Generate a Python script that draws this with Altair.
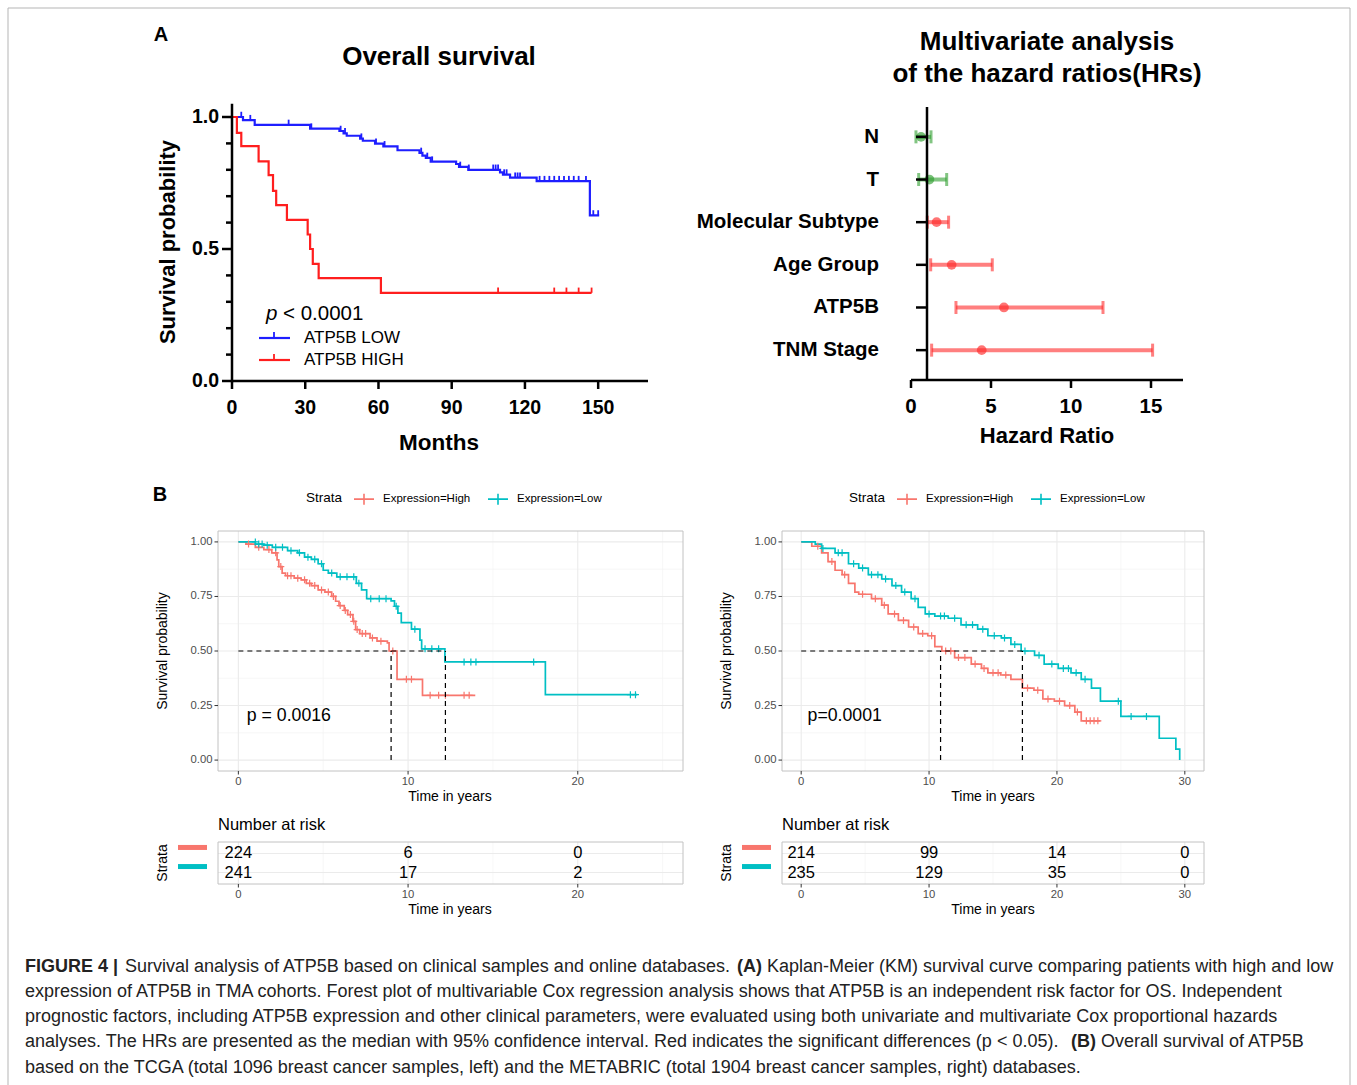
import altair as alt
import pandas as pd

W, H = 1357, 1085
FONT = "Liberation Sans"

# ======================= DATA =======================
# ---- Panel A: TMA cohort Kaplan-Meier (months) ----
a_groups = ["ATP5B LOW", "ATP5B HIGH"]
a_low_t = [0, 4.5, 9.3, 32, 44, 45.7, 47, 52.5, 53.6, 58.6, 62, 67.8, 76.8, 78, 79.4, 81.4,
           91.8, 93, 96.8, 109.8, 111, 113.9, 124.8, 146.6, 150.4]
a_low_s = [1.0, 0.988, 0.97, 0.956, 0.947, 0.938, 0.929, 0.918, 0.91, 0.899, 0.889, 0.874, 0.864,
           0.854, 0.845, 0.831, 0.822, 0.811, 0.80, 0.79, 0.782, 0.77, 0.757, 0.627, 0.627]
a_low_cens_t = [3.8, 7.5, 23.2, 32.5, 44.5, 46.3, 53, 59, 62.5, 77.5, 80, 82, 93.5, 97, 107, 108,
                109, 111.5, 112.5, 116, 117, 118, 126, 128, 130, 132, 134, 136, 138, 140, 142, 145,
                148, 150]
a_low_cens_s = [1.0, 0.988, 0.97, 0.956, 0.947, 0.938, 0.918, 0.899, 0.889, 0.864, 0.845, 0.831,
                0.811, 0.80, 0.80, 0.80, 0.80, 0.782, 0.782, 0.77, 0.77, 0.77, 0.757, 0.757, 0.757,
                0.757, 0.757, 0.757, 0.757, 0.757, 0.757, 0.757, 0.627, 0.627]
a_high_t = [0, 2, 3.8, 10.9, 15, 16.8, 18.1, 22.5, 31, 32, 33.1, 35.5, 61, 147.3]
a_high_s = [1.0, 0.94, 0.89, 0.832, 0.78, 0.72, 0.666, 0.61, 0.555, 0.5, 0.444, 0.39, 0.334, 0.334]
a_high_cens_t = [109, 132, 137, 142, 147.3]
a_high_cens_s = [0.334, 0.334, 0.334, 0.334, 0.334]
a_xticks = [0, 30, 60, 90, 120, 150]
a_yticks = [0, 0.5, 1.0]
a_yminor = [0.1, 0.2, 0.3, 0.4, 0.6, 0.7, 0.8, 0.9]

# ---- Forest plot (multivariate Cox) ----
hr_vars = ["N", "T", "Molecular Subtype", "Age Group", "ATP5B", "TNM Stage"]
hr_est = [0.63, 1.15, 1.6, 2.54, 5.81, 4.42]
hr_lo = [0.31, 0.48, 1.02, 1.23, 2.81, 1.29]
hr_hi = [1.25, 2.23, 2.35, 5.08, 12.0, 15.1]
hr_sig = ["ns", "ns", "sig", "sig", "sig", "sig"]
hr_xticks = [0, 5, 10, 15]

# ---- Panel B: TCGA (left) ----
b_groups = ["Expression=High", "Expression=Low"]
bl_high_t = [0, 0.45, 1.0, 1.5, 1.97, 2.28, 2.38, 2.58, 2.78, 3.29, 3.7, 4.0, 4.3, 4.7, 5.1, 5.5,
             5.73, 5.93, 6.24, 6.44, 6.75, 6.91, 7.15, 7.76, 8.17, 8.78, 8.88, 9.35, 10.85, 13.96]
bl_high_s = [1.0, 0.99, 0.975, 0.965, 0.95, 0.918, 0.887, 0.857, 0.845, 0.834, 0.826, 0.81, 0.80,
             0.78, 0.77, 0.75, 0.728, 0.708, 0.686, 0.667, 0.636, 0.598, 0.58, 0.56, 0.545, 0.537,
             0.50, 0.37, 0.297, 0.297]
bl_low_t = [0, 1.0, 1.5, 2.0, 2.9, 3.5, 3.9, 4.3, 4.7, 5.0, 5.3, 5.8, 6.95, 7.26, 7.56, 9.0, 9.2,
            9.4, 9.6, 10.2, 10.7, 10.8, 12.17, 18.09, 23.5]
bl_low_s = [1.0, 0.99, 0.985, 0.975, 0.96, 0.95, 0.93, 0.92, 0.90, 0.87, 0.857, 0.84, 0.81, 0.78,
            0.74, 0.73, 0.705, 0.674, 0.63, 0.60, 0.55, 0.51, 0.45, 0.30, 0.30]
bl_high_cens_t = [0.6, 1.2, 1.8, 2.2, 2.5, 2.9, 3.1, 3.5, 3.9, 4.2, 4.5, 4.9, 5.3, 5.6, 6.0, 6.3,
                  6.6, 6.8, 7.0, 7.3, 7.5, 7.9, 8.4, 9.1, 9.9, 10.2, 11.3, 11.8, 12.2, 13.3, 13.6]
bl_high_cens_s = [0.99, 0.975, 0.965, 0.95, 0.887, 0.845, 0.845, 0.834, 0.826, 0.81, 0.80, 0.78,
                  0.77, 0.75, 0.708, 0.686, 0.667, 0.636, 0.598, 0.58, 0.58, 0.56, 0.545, 0.50,
                  0.37, 0.37, 0.297, 0.297, 0.297, 0.297, 0.297]
bl_low_cens_t = [1.0, 1.2, 1.4, 1.7, 2.2, 2.6, 3.1, 3.6, 4.1, 4.5, 4.9, 5.5, 6.0, 6.4, 6.8, 7.1,
                 7.8, 8.3, 8.7, 9.3, 10.4, 11.0, 11.4, 11.8, 13.3, 13.7, 14.0, 17.4, 23.1, 23.4]
bl_low_cens_s = [1.0, 0.99, 0.99, 0.985, 0.975, 0.975, 0.96, 0.95, 0.93, 0.92, 0.90, 0.857, 0.84,
                 0.84, 0.84, 0.81, 0.74, 0.74, 0.74, 0.705, 0.60, 0.51, 0.51, 0.51, 0.45, 0.45,
                 0.45, 0.45, 0.30, 0.30]
bl_medians = [9.0, 12.2]
bl_xticks = [0, 10, 20]
bl_xminor = [5, 15, 25]
bl_risk_high = [224, 6, 0]
bl_risk_low = [241, 17, 2]

# ---- Panel B: METABRIC (right) ----
br_high_t = [0, 0.83, 1.6, 2.1, 2.65, 3.2, 3.7, 4.2, 4.5, 5.5, 6.3, 6.8, 7.6, 8.4, 9.15, 9.9,
             10.45, 11.0, 12.0, 13.3, 14.1, 14.6, 15.6, 16.4, 17.3, 18.2, 18.9, 19.8, 20.6, 21.4,
             21.9, 23.4]
br_high_s = [1.0, 0.98, 0.95, 0.91, 0.87, 0.85, 0.81, 0.77, 0.76, 0.74, 0.71, 0.67, 0.64, 0.61,
             0.58, 0.57, 0.52, 0.50, 0.47, 0.44, 0.42, 0.40, 0.39, 0.37, 0.33, 0.32, 0.28, 0.27,
             0.25, 0.22, 0.18, 0.18]
br_low_t = [0, 1.1, 1.6, 2.65, 3.7, 4.5, 5.25, 6.3, 7.1, 7.85, 8.6, 9.15, 9.7, 10.45, 11.5, 12.5,
            13.8, 14.6, 15.65, 16.4, 17.2, 18.25, 19.0, 20.1, 21.1, 21.9, 22.7, 23.4, 25.0, 28.0,
            29.3, 29.6]
br_low_s = [1.0, 0.99, 0.97, 0.95, 0.90, 0.88, 0.85, 0.83, 0.80, 0.77, 0.74, 0.70, 0.67, 0.66,
            0.65, 0.62, 0.60, 0.57, 0.56, 0.53, 0.50, 0.48, 0.44, 0.42, 0.40, 0.37, 0.33, 0.27,
            0.20, 0.10, 0.05, 0.0]
br_high_cens_t = [1.3, 2.4, 3.4, 4.8, 5.8, 6.5, 7.3, 8.0, 8.8, 9.5, 10.2, 11.3, 11.7, 12.3, 12.8,
                  13.6, 14.3, 15.0, 15.4, 16.0, 17.7, 18.5, 19.3, 20.2, 21.0, 21.6, 22.3, 22.6,
                  22.9, 23.2]
br_high_cens_s = [0.98, 0.91, 0.85, 0.76, 0.74, 0.71, 0.67, 0.64, 0.61, 0.58, 0.57, 0.50, 0.50,
                  0.47, 0.47, 0.44, 0.42, 0.40, 0.40, 0.39, 0.33, 0.32, 0.28, 0.27, 0.25, 0.22,
                  0.18, 0.18, 0.18, 0.18]
br_low_cens_t = [1.7, 2.9, 3.2, 4.1, 4.8, 5.5, 6.0, 6.6, 7.4, 8.1, 8.9, 10.0, 10.9, 11.2, 12.0,
                 12.9, 13.4, 14.2, 15.1, 15.9, 16.7, 17.5, 18.6, 19.6, 20.5, 20.9, 21.5, 22.2,
                 24.8, 25.8, 27.0]
br_low_cens_s = [0.97, 0.95, 0.95, 0.90, 0.88, 0.85, 0.85, 0.83, 0.80, 0.77, 0.74, 0.67, 0.66,
                 0.66, 0.65, 0.62, 0.62, 0.60, 0.57, 0.56, 0.53, 0.50, 0.48, 0.44, 0.42, 0.42,
                 0.40, 0.37, 0.27, 0.20, 0.20]
br_medians = [10.9, 17.3]
br_xticks = [0, 10, 20, 30]
br_xminor = [5, 15, 25]
br_risk_high = [214, 99, 14, 0]
br_risk_low = [235, 129, 35, 0]

b_yticks = [0, 0.25, 0.5, 0.75, 1.0]
b_yminor = [0.125, 0.375, 0.625, 0.875]
risk_strata = ["High", "Low"]

caption_lines = [
    [("FIGURE 4 |", "bold", 25), ("Survival analysis of ATP5B based on clinical samples and online databases.", "normal", 125),
     ("(A)", "bold", 737), ("Kaplan-Meier (KM) survival curve comparing patients with high and low", "normal", 767)],
    [("expression of ATP5B in TMA cohorts. Forest plot of multivariable Cox regression analysis shows that ATP5B is an independent risk factor for OS. Independent", "normal", 25)],
    [("prognostic factors, including ATP5B expression and other clinical parameters, were evaluated using both univariate and multivariate Cox proportional hazards", "normal", 25)],
    [("analyses. The HRs are presented as the median with 95% confidence interval. Red indicates the significant differences (p < 0.05).", "normal", 25),
     ("(B)", "bold", 1071), ("Overall survival of ATP5B", "normal", 1101)],
    [("based on the TCGA (total 1096 breast cancer samples, left) and the METABRIC (total 1904 breast cancer samples, right) databases.", "normal", 25)],
]
caption_y = [967, 992, 1017, 1042, 1068]

# ======================= HELPERS =======================
one = pd.DataFrame({"k": [0]})


def km_frame(parts):
    return pd.concat([pd.DataFrame({"t": t, "s": s, "grp": g}) for t, s, g in parts],
                     ignore_index=True)


def label(text, x, y, size, weight="normal", align="center", angle=0, style="normal", color="black"):
    kw = dict(text=text, font=FONT, fontSize=size, fontWeight=weight, align=align,
              baseline="middle", color=color, fontStyle=style)
    if angle:
        kw["angle"] = angle
    return alt.Chart(one).mark_text(**kw).encode(x=alt.value(x), y=alt.value(y))


def seg(x0, x1, y0, y1, color="black", width=1.0):
    return alt.Chart(one).mark_rule(color=color, strokeWidth=width).encode(
        x=alt.value(x0), x2=alt.value(x1), y=alt.value(y0), y2=alt.value(y1))


def xticks(vals, xs, y0, y1, color, width):
    return alt.Chart(pd.DataFrame({"t": vals})).mark_rule(color=color, strokeWidth=width).encode(
        x=alt.X("t:Q", scale=xs, axis=None), y=alt.value(y0), y2=alt.value(y1))


def yticks(vals, ys, x0, x1, color, width):
    return alt.Chart(pd.DataFrame({"s": vals})).mark_rule(color=color, strokeWidth=width).encode(
        y=alt.Y("s:Q", scale=ys, axis=None), x=alt.value(x0), x2=alt.value(x1))


def xlabels(vals, xs, y, fmt, size, weight, color):
    return alt.Chart(pd.DataFrame({"t": vals})).mark_text(
        font=FONT, fontSize=size, fontWeight=weight, color=color, baseline="middle",
        align="center").encode(x=alt.X("t:Q", scale=xs, axis=None), y=alt.value(y),
                               text=alt.Text("t:Q", format=fmt))


def ylabels(vals, ys, x, fmt, size, weight, color):
    return alt.Chart(pd.DataFrame({"s": vals})).mark_text(
        font=FONT, fontSize=size, fontWeight=weight, color=color, baseline="middle",
        align="right").encode(y=alt.Y("s:Q", scale=ys, axis=None), x=alt.value(x),
                              text=alt.Text("s:Q", format=fmt))


layers = []

# frame around the figure
layers.append(alt.Chart(one).mark_rect(fillOpacity=0, stroke="#b5b5b5", strokeWidth=1).encode(
    x=alt.value(8), x2=alt.value(1350), y=alt.value(8), y2=alt.value(1100)))

# ======================= PANEL A: KM =======================
A_X = alt.Scale(domain=[0, 170], range=[232, 647], nice=False, zero=False)
A_Y = alt.Scale(domain=[0, 1.05], range=[381, 103.8], nice=False, zero=False)
A_C = alt.Scale(domain=a_groups, range=["#1e1eff", "#ff1e1e"])

a_curves = km_frame([(a_low_t, a_low_s, a_groups[0]), (a_high_t, a_high_s, a_groups[1])])
a_cens = km_frame([(a_low_cens_t, a_low_cens_s, a_groups[0]),
                   (a_high_cens_t, a_high_cens_s, a_groups[1])])

a_line = alt.Chart(a_curves).mark_line(interpolate="step-after", strokeWidth=2.2).encode(
    x=alt.X("t:Q", scale=A_X, axis=None),
    y=alt.Y("s:Q", scale=A_Y, axis=None),
    color=alt.Color("grp:N", scale=A_C, legend=None))
a_cmarks = alt.Chart(a_cens).mark_point(shape="M0,0V-1", filled=False, size=110,
                                        strokeWidth=1.8, opacity=1).encode(
    x=alt.X("t:Q", scale=A_X, axis=None),
    y=alt.Y("s:Q", scale=A_Y, axis=None),
    color=alt.Color("grp:N", scale=A_C, legend=None))
layers.append(alt.layer(a_line, a_cmarks))

# panel A axes (GraphPad style)
layers += [
    seg(232, 232, 103.8, 382.2, width=2.5),
    seg(231, 648, 381, 381, width=2.5),
    yticks(a_yticks, A_Y, 222, 232, "black", 2.5),
    yticks(a_yminor, A_Y, 226, 232, "black", 2.5),
    xticks(a_xticks, A_X, 381, 389, "black", 2.5),
    ylabels(a_yticks, A_Y, 219, ".1f", 19.5, "bold", "black"),
    xlabels(a_xticks, A_X, 408, "d", 19.5, "bold", "black"),
    label("Survival probability", 168, 242, 22, "bold", angle=270),
    label("Months", 439, 443, 22.5, "bold"),
]

# panel A annotations / legend
layers += [
    label("A", 161, 35, 20, "bold"),
    label("Overall survival", 439, 57, 26, "bold"),
    label("p", 266, 314, 20.5, align="left", style="italic"),
    label("< 0.0001", 283, 314, 20.5, align="left"),
    label("ATP5B LOW", 304, 338, 17, align="left"),
    label("ATP5B HIGH", 304, 360, 17, align="left"),
]
for yy, col in [(338, "#1e1eff"), (360, "#ff1e1e")]:
    layers.append(seg(259, 290, yy, yy, col, 2.2))
    layers.append(seg(274, 274, yy - 6, yy, col, 1.8))

# ======================= FOREST PLOT =======================
F_X = alt.Scale(domain=[0, 17], range=[911, 1183], nice=False, zero=False)
F_Y = alt.Scale(type="point", domain=hr_vars, range=[107, 380], padding=0.7)
F_C = alt.Scale(domain=["ns", "sig"], range=["#2f9e2f", "#ff2a2a"])

f_df = pd.DataFrame({"var": hr_vars, "hr": hr_est, "lo": hr_lo, "hi": hr_hi, "sig": hr_sig})
f_caps = pd.DataFrame({"var": hr_vars + hr_vars, "v": hr_lo + hr_hi, "sig": hr_sig + hr_sig})

f_ci = alt.Chart(f_df).mark_rule(strokeWidth=4, opacity=0.6).encode(
    x=alt.X("lo:Q", scale=F_X, axis=None), x2="hi:Q",
    y=alt.Y("var:N", scale=F_Y, axis=None),
    color=alt.Color("sig:N", scale=F_C, legend=None))
f_cap = alt.Chart(f_caps).mark_tick(orient="vertical", size=13, thickness=3, opacity=0.6).encode(
    x=alt.X("v:Q", scale=F_X, axis=None),
    y=alt.Y("var:N", scale=F_Y, axis=None),
    color=alt.Color("sig:N", scale=F_C, legend=None))
f_dot = alt.Chart(f_df).mark_circle(size=95, opacity=0.65).encode(
    x=alt.X("hr:Q", scale=F_X, axis=None),
    y=alt.Y("var:N", scale=F_Y, axis=None),
    color=alt.Color("sig:N", scale=F_C, legend=None))
f_tick = alt.Chart(pd.DataFrame({"var": hr_vars})).mark_rule(color="black", strokeWidth=2.5).encode(
    y=alt.Y("var:N", scale=F_Y, axis=None), x=alt.value(916), x2=alt.value(927))
f_lab = alt.Chart(pd.DataFrame({"var": hr_vars})).mark_text(
    font=FONT, fontSize=20.5, fontWeight="bold", color="black", align="right",
    baseline="middle").encode(y=alt.Y("var:N", scale=F_Y, axis=None), x=alt.value(879),
                              text="var:N")
layers.append(alt.layer(f_ci, f_cap, f_dot, f_tick, f_lab))
layers += [
    seg(927, 927, 107, 381, width=2.5),
    seg(911, 1183, 380, 380, width=2.5),
    xticks(hr_xticks, F_X, 380, 388, "black", 2.5),
    xlabels(hr_xticks, F_X, 407, "d", 20.5, "bold", "black"),
    label("Hazard Ratio", 1047, 436, 22, "bold"),
    label("Multivariate analysis", 1047, 42, 26, "bold"),
    label("of the hazard ratios(HRs)", 1047, 74, 26, "bold"),
]

# ======================= PANEL B =======================
B_COLORS = ["#F8766D", "#00BFC4"]
GREY_LAB = "#4d4d4d"
GREY_TICK = "#333333"


def km_b(hi, lo, hi_c, lo_c, xdom, xr, xmaj, xmin, meds, ptxt, leg_x, ttl_x):
    xs = alt.Scale(domain=xdom, range=xr, nice=False, zero=False)
    ys = alt.Scale(domain=[-0.05, 1.05], range=[771, 531], nice=False, zero=False)
    cs = alt.Scale(domain=b_groups, range=B_COLORS)
    curves = km_frame([(hi[0], hi[1], b_groups[0]), (lo[0], lo[1], b_groups[1])])
    cens = km_frame([(hi_c[0], hi_c[1], b_groups[0]), (lo_c[0], lo_c[1], b_groups[1])])

    leg = alt.Legend(orient="none", legendX=leg_x, legendY=488, direction="horizontal",
                     title="Strata", titleOrient="left", titleFont=FONT, titleFontSize=13.5,
                     titleFontWeight="normal", titleColor="black", titlePadding=10,
                     titleBaseline="middle", labelFont=FONT, labelFontSize=11.5,
                     labelColor="black", labelOffset=8, columnPadding=13,
                     symbolType="M-1,0H1M0,-0.55V0.55", symbolSize=400, symbolStrokeWidth=1.6,
                     padding=0)

    grid = [
        xticks(xmin, xs, 531, 771, "#f3f3f3", 0.7),
        yticks(b_yminor, ys, xr[0], xr[1], "#f3f3f3", 0.7),
        xticks(xmaj, xs, 531, 771, "#ebebeb", 1.1),
        yticks(b_yticks, ys, xr[0], xr[1], "#ebebeb", 1.1),
    ]
    line = alt.Chart(curves).mark_line(interpolate="step-after", strokeWidth=1.7).encode(
        x=alt.X("t:Q", scale=xs, axis=None),
        y=alt.Y("s:Q", scale=ys, axis=None),
        color=alt.Color("grp:N", scale=cs, legend=leg))
    cm = alt.Chart(cens).mark_point(shape="M-1,0H1M0,-1V1", filled=False, size=49,
                                    strokeWidth=1.2, opacity=1).encode(
        x=alt.X("t:Q", scale=xs, axis=None),
        y=alt.Y("s:Q", scale=ys, axis=None),
        color=alt.Color("grp:N", scale=cs, legend=None))
    med_df = pd.DataFrame({"t": [0, meds[0], meds[1]], "t2": [meds[1], meds[0], meds[1]],
                           "s": [0.5, 0.0, 0.0], "s2": [0.5, 0.5, 0.5]})
    med = alt.Chart(med_df).mark_rule(color="black", strokeWidth=1.2, strokeDash=[5, 4]).encode(
        x=alt.X("t:Q", scale=xs, axis=None), x2="t2:Q",
        y=alt.Y("s:Q", scale=ys, axis=None), y2="s2:Q")
    ptx = alt.Chart(pd.DataFrame({"t": [0.5], "s": [0.2], "lab": [ptxt]})).mark_text(
        align="left", baseline="middle", font=FONT, fontSize=17.7, color="black").encode(
        x=alt.X("t:Q", scale=xs, axis=None), y=alt.Y("s:Q", scale=ys, axis=None), text="lab:N")
    border = alt.Chart(one).mark_rect(fillOpacity=0, stroke="#c2c2c2", strokeWidth=1).encode(
        x=alt.value(xr[0]), x2=alt.value(xr[1]), y=alt.value(531), y2=alt.value(771))
    axes = [
        xticks(xmaj, xs, 771, 774.5, GREY_TICK, 1),
        xlabels(xmaj, xs, 782, "d", 11.3, "normal", GREY_LAB),
        yticks(b_yticks, ys, xr[0] - 3.5, xr[0], GREY_TICK, 1),
        ylabels(b_yticks, ys, xr[0] - 5.5, ".2f", 11.3, "normal", GREY_LAB),
        label("Time in years", ttl_x, 797, 14),
        label("Survival probability", xr[0] - 55, 651, 14, angle=270),
    ]
    return [alt.layer(*grid, line, cm, med, ptx, border)] + axes


def risk_b(xdom, xr, xmaj, xmin, n_hi, n_lo, ttl_x):
    xs = alt.Scale(domain=xdom, range=xr, nice=False, zero=False)
    ys = alt.Scale(type="point", domain=risk_strata, range=[842, 884], padding=0.6)
    cs = alt.Scale(domain=risk_strata, range=B_COLORS)
    nums = pd.DataFrame({"t": xmaj + xmaj,
                         "strata": [risk_strata[0] for _ in xmaj] + [risk_strata[1] for _ in xmaj],
                         "n": n_hi + n_lo})
    hmaj = alt.Chart(pd.DataFrame({"strata": risk_strata})).mark_rule(
        color="#ebebeb", strokeWidth=1.1).encode(
        y=alt.Y("strata:N", scale=ys, axis=None), x=alt.value(xr[0]), x2=alt.value(xr[1]))
    txt = alt.Chart(nums).mark_text(font=FONT, fontSize=16.5, color="black", baseline="middle").encode(
        x=alt.X("t:Q", scale=xs, axis=None),
        y=alt.Y("strata:N", scale=ys, axis=None),
        text="n:Q")
    bars = alt.Chart(pd.DataFrame({"strata": risk_strata})).mark_rule(strokeWidth=5, yOffset=-6).encode(
        y=alt.Y("strata:N", scale=ys, axis=None),
        x=alt.value(xr[0] - 40), x2=alt.value(xr[0] - 11),
        color=alt.Color("strata:N", scale=cs, legend=None))
    border = alt.Chart(one).mark_rect(fillOpacity=0, stroke="#c2c2c2", strokeWidth=1).encode(
        x=alt.value(xr[0]), x2=alt.value(xr[1]), y=alt.value(842), y2=alt.value(884))
    return [xticks(xmin, xs, 842, 884, "#f3f3f3", 0.7),
            xticks(xmaj, xs, 842, 884, "#ebebeb", 1.1),
            alt.layer(hmaj, txt, bars, border),
            xticks(xmaj, xs, 884, 887.5, GREY_TICK, 1),
            xlabels(xmaj, xs, 895, "d", 11.3, "normal", GREY_LAB),
            label("Time in years", ttl_x, 910, 14),
            label("Number at risk", xr[0], 825, 16.5, align="left"),
            label("Strata", xr[0] - 55, 863, 14, angle=270)]


layers += km_b((bl_high_t, bl_high_s), (bl_low_t, bl_low_s),
               (bl_high_cens_t, bl_high_cens_s), (bl_low_cens_t, bl_low_cens_s),
               [-1.2, 26.2], [218, 683], bl_xticks, bl_xminor, bl_medians,
               "p = 0.0016", 306, 450)
layers += km_b((br_high_t, br_high_s), (br_low_t, br_low_s),
               (br_high_cens_t, br_high_cens_s), (br_low_cens_t, br_low_cens_s),
               [-1.5, 31.5], [782, 1204], br_xticks, br_xminor, br_medians,
               "p=0.0001", 849, 993)
layers += risk_b([-1.2, 26.2], [218, 683], bl_xticks, bl_xminor, bl_risk_high, bl_risk_low, 450)
layers += risk_b([-1.5, 31.5], [782, 1204], br_xticks, br_xminor, br_risk_high, br_risk_low, 993)
layers.append(label("B", 160, 495, 20, "bold"))

# ======================= CAPTION =======================
for segs, yy in zip(caption_lines, caption_y):
    for txt, wt, xx in segs:
        layers.append(label(txt, xx, yy, 18.0, wt, align="left", color="#222222"))

chart = alt.layer(*layers).resolve_scale(
    x="independent", y="independent", color="independent"
).resolve_legend(color="independent").properties(
    width=W, height=H, padding=0, background="white",
    autosize=alt.AutoSizeParams(type="none"),
).configure_view(strokeWidth=0)

chart.save("out.html", embed_options={"renderer": "svg", "actions": False})
